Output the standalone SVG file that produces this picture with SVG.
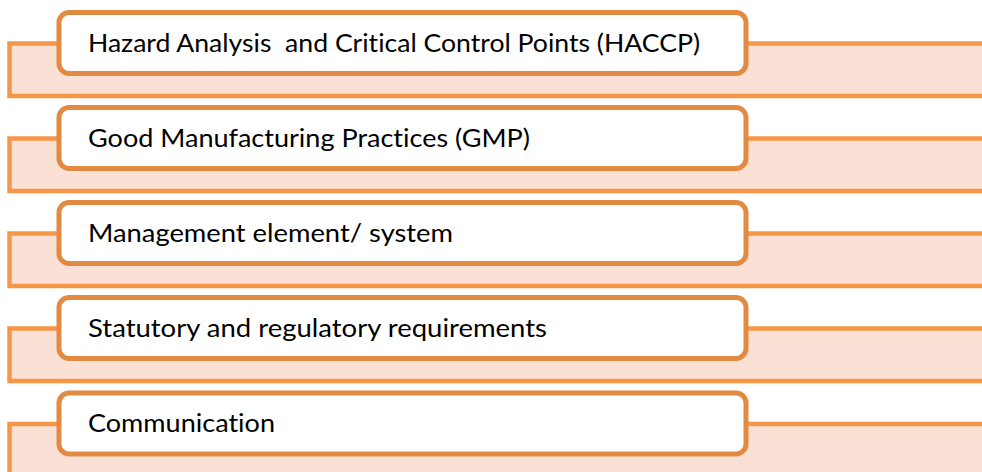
<svg xmlns="http://www.w3.org/2000/svg" width="982" height="472" viewBox="0 0 982 472">
  <style>
    .band { fill: #FBE0D5; stroke: #F79646; stroke-width: 4.5; }
    .box { fill: #FFFFFF; stroke: #E38A42; stroke-width: 5; }
    .label { font-family: Lato, "Open Sans", "Liberation Sans", sans-serif; font-size: 25px; fill: #000000; font-variant-ligatures: none; font-feature-settings: "liga" 0; white-space: pre; }
  </style>
  <rect width="982" height="472" fill="#FFFFFF"/>
  <g id="node-haccp">
    <rect class="band" x="9.5" y="43.5" width="1000" height="52.5"/>
    <rect class="box" x="59" y="12.5" width="687" height="61" rx="10"/>
    <text class="label" x="88" y="51.5" textLength="612" lengthAdjust="spacingAndGlyphs" xml:space="preserve">Hazard Analysis  and Critical Control Points (HACCP)</text>
  </g>
  <g id="node-gmp">
    <rect class="band" x="9.5" y="138.5" width="1000" height="52.5"/>
    <rect class="box" x="59" y="107.5" width="687" height="61" rx="10"/>
    <text class="label" x="88" y="146.5" textLength="442" lengthAdjust="spacingAndGlyphs">Good Manufacturing Practices (GMP)</text>
  </g>
  <g id="node-management">
    <rect class="band" x="9.5" y="233.5" width="1000" height="52.5"/>
    <rect class="box" x="59" y="202.5" width="687" height="61" rx="10"/>
    <text class="label" x="88" y="241.5" textLength="365" lengthAdjust="spacingAndGlyphs">Management element/ system</text>
  </g>
  <g id="node-statutory">
    <rect class="band" x="9.5" y="328.5" width="1000" height="52.5"/>
    <rect class="box" x="59" y="297.5" width="687" height="61" rx="10"/>
    <text class="label" x="88" y="336.5" textLength="459" lengthAdjust="spacingAndGlyphs">Statutory and regulatory requirements</text>
  </g>
  <g id="node-communication">
    <rect class="band" x="9.5" y="424" width="1000" height="60"/>
    <rect class="box" x="59" y="393" width="687" height="61" rx="10"/>
    <text class="label" x="88" y="431.5" textLength="187" lengthAdjust="spacingAndGlyphs">Communication</text>
  </g>
</svg>
